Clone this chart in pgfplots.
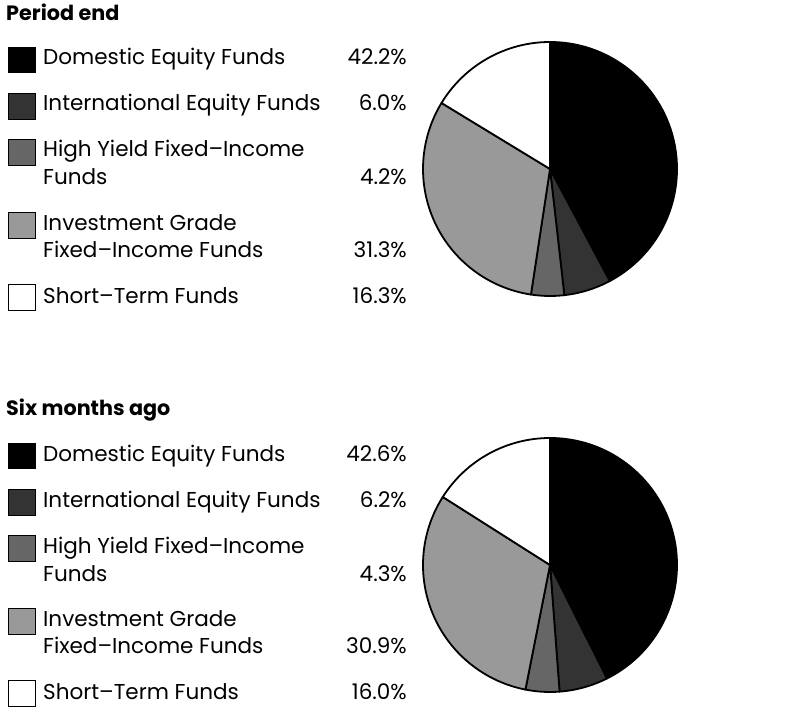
\documentclass[border=0pt]{standalone}
\usepackage{pgfplots}
\pgfplotsset{compat=1.18}
\usepackage{pgfplotstable}
\usepackage{fontspec}
\setmainfont{Poppins}

\definecolor{intl}{HTML}{333333}
\definecolor{hy}{HTML}{666666}
\definecolor{ig}{HTML}{999999}

\pgfplotstableread{
share shade
42.2 black
6.0 intl
4.2 hy
31.3 ig
16.3 white
}\periodend

\pgfplotstableread{
share shade
42.6 black
6.2 intl
4.3 hy
30.9 ig
16.0 white
}\sixago

\newcommand\drawpie[2]{%
  \pgfplotstablegetrowsof{#2}%
  \pgfmathtruncatemacro\nrows{\pgfplotsretval-1}%
  \xdef\startang{90}%
  \foreach \i in {0,...,\nrows}{%
    \pgfplotstablegetelem{\i}{share}\of#2\let\v\pgfplotsretval
    \pgfplotstablegetelem{\i}{shade}\of#2\let\c\pgfplotsretval
    \pgfmathsetmacro\endang{\startang-3.6*\v}%
    \filldraw[fill=\c, draw=black, line width=1.8bp, line join=round]
      (#1) -- ++(\startang:127bp) arc[start angle=\startang, end angle=\endang, radius=127bp] -- cycle;
    \xdef\startang{\endang}%
  }%
}

\newcommand\txtfont{\fontsize{21.6}{26}\selectfont}
\newcommand\ttlfont{\fontsize{20.8}{24}\selectfont\bfseries}

\begin{document}
\begin{tikzpicture}
\begin{axis}[scale only axis, width=802bp, height=712bp,
  xmin=0, xmax=802, ymin=0, ymax=712, y dir=reverse,
  hide axis, clip=false]
\coordinate (BL) at (axis cs:0,712);
\coordinate (TR) at (axis cs:802,0);
\coordinate (P1) at (axis cs:550,169);
\coordinate (P2) at (axis cs:550,565);

% ---------- Panel 1 ----------
\node[anchor=base west, inner sep=0] at (axis cs:6,20.5) {\ttlfont Period end};
\draw[fill=black, line width=0.8bp] (axis cs:8,47) rectangle (axis cs:35,72.5);
\draw[fill=intl, line width=0.8bp] (axis cs:8,93) rectangle (axis cs:35,119);
\draw[fill=hy, line width=0.8bp] (axis cs:8,139.5) rectangle (axis cs:35,165);
\draw[fill=ig, line width=0.8bp] (axis cs:8,212.7) rectangle (axis cs:35,238.3);
\draw[fill=white, line width=0.8bp] (axis cs:8,284.3) rectangle (axis cs:35,310);
\node[anchor=base west, inner sep=0] at (axis cs:43,65) {\txtfont Domestic Equity Funds};
\node[anchor=base west, inner sep=0] at (axis cs:43,111) {\txtfont International Equity Funds};
\node[anchor=base west, inner sep=0] at (axis cs:43,157) {\txtfont High Yield Fixed–Income};
\node[anchor=base west, inner sep=0] at (axis cs:43,185) {\txtfont Funds};
\node[anchor=base west, inner sep=0] at (axis cs:43,230.7) {\txtfont Investment Grade};
\node[anchor=base west, inner sep=0] at (axis cs:43,257.7) {\txtfont Fixed–Income Funds};
\node[anchor=base west, inner sep=0] at (axis cs:43,303.3) {\txtfont Short–Term Funds};
\node[anchor=base east, inner sep=0] at (axis cs:407,65) {\txtfont 42.2\%};
\node[anchor=base east, inner sep=0] at (axis cs:407,111) {\txtfont 6.0\%};
\node[anchor=base east, inner sep=0] at (axis cs:407,185) {\txtfont 4.2\%};
\node[anchor=base east, inner sep=0] at (axis cs:407,257.7) {\txtfont 31.3\%};
\node[anchor=base east, inner sep=0] at (axis cs:407,303.3) {\txtfont 16.3\%};

% ---------- Panel 2 ----------
\node[anchor=base west, inner sep=0] at (axis cs:6,415.5) {\ttlfont Six months ago};
\draw[fill=black, line width=0.8bp] (axis cs:8,443) rectangle (axis cs:35,468.5);
\draw[fill=intl, line width=0.8bp] (axis cs:8,489) rectangle (axis cs:35,515);
\draw[fill=hy, line width=0.8bp] (axis cs:8,535.5) rectangle (axis cs:35,561);
\draw[fill=ig, line width=0.8bp] (axis cs:8,608.7) rectangle (axis cs:35,634.3);
\draw[fill=white, line width=0.8bp] (axis cs:8,680.3) rectangle (axis cs:35,706);
\node[anchor=base west, inner sep=0] at (axis cs:43,461) {\txtfont Domestic Equity Funds};
\node[anchor=base west, inner sep=0] at (axis cs:43,507) {\txtfont International Equity Funds};
\node[anchor=base west, inner sep=0] at (axis cs:43,553) {\txtfont High Yield Fixed–Income};
\node[anchor=base west, inner sep=0] at (axis cs:43,581) {\txtfont Funds};
\node[anchor=base west, inner sep=0] at (axis cs:43,626.7) {\txtfont Investment Grade};
\node[anchor=base west, inner sep=0] at (axis cs:43,653.7) {\txtfont Fixed–Income Funds};
\node[anchor=base west, inner sep=0] at (axis cs:43,699.3) {\txtfont Short–Term Funds};
\node[anchor=base east, inner sep=0] at (axis cs:407,461) {\txtfont 42.6\%};
\node[anchor=base east, inner sep=0] at (axis cs:407,507) {\txtfont 6.2\%};
\node[anchor=base east, inner sep=0] at (axis cs:407,581) {\txtfont 4.3\%};
\node[anchor=base east, inner sep=0] at (axis cs:407,653.7) {\txtfont 30.9\%};
\node[anchor=base east, inner sep=0] at (axis cs:407,699.3) {\txtfont 16.0\%};
\end{axis}
\drawpie{P1}{\periodend}
\drawpie{P2}{\sixago}
\pgfresetboundingbox
\path[use as bounding box] (BL) rectangle (TR);
\end{tikzpicture}
\end{document}
